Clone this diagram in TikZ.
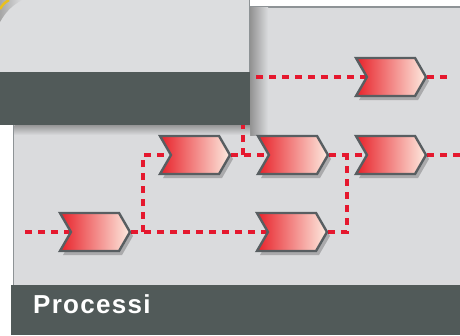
\documentclass[tikz,border=0pt]{standalone}
\usepackage{fontspec}
\newfontfamily\labelfont[LetterSpace=5]{Liberation Sans}
\usepackage{xcolor}
\usepackage{tikz}
\usetikzlibrary{shapes.symbols, shadows, backgrounds}

\definecolor{panelgray}{HTML}{DADBDD}
\definecolor{cardgray}{HTML}{DCDDDF}
\definecolor{darkbar}{HTML}{515A59}
\definecolor{edgegray}{HTML}{8E9396}
\definecolor{linkred}{HTML}{E5182E}
\definecolor{chevred}{HTML}{E8222A}
\definecolor{chevlight}{HTML}{FDEBE0}
\definecolor{chevborder}{HTML}{585E61}
\definecolor{cornergold}{HTML}{E8C020}

\pgfdeclarelayer{panel}
\pgfdeclarelayer{links}
\pgfdeclarelayer{front}
\pgfsetlayers{panel,links,main,front}

\begin{document}
\begin{tikzpicture}[x=1pt, y=-1pt,
    stepbox/.style={shape=signal, signal from=west, signal to=east, signal pointer angle=120,
      minimum width=70pt, minimum height=38pt, inner sep=0pt,
      draw=chevborder, line width=2.4pt, left color=chevred, right color=chevlight,
      drop shadow={shadow xshift=3pt, shadow yshift=-4pt, fill=black, opacity=0.22}},
    link/.style={draw=linkred, line width=3.4pt, dash pattern=on 7pt off 6pt}]
    \useasboundingbox (0,0) rectangle (460,335);
    % back panel
    \begin{pgfonlayer}{panel}
      \fill[white] (0,0) rectangle (460,335);
      \fill[panelgray] (13,7) rectangle (460,285);
      \draw[edgegray, line width=1.5pt] (13.5,335) -- (13.5,7) -- (460,7);
      % card shadow
      \shade[left color=gray!80!panelgray, right color=panelgray] (250,7.8) rectangle (268,135);
      \shade[top color=gray!75!panelgray, bottom color=panelgray] (14.3,125) rectangle (250,135);
    \end{pgfonlayer}
    % process steps
    \node[stepbox] (c1) at (95,232) {};
    \node[stepbox] (c2) at (195,155) {};
    \node[stepbox] (c3) at (293,155) {};
    \node[stepbox] (c4) at (292,232) {};
    \node[stepbox] (c5) at (391,155) {};
    \node[stepbox] (c6) at (391,77) {};
    \coordinate (in0) at (25,232);
    \coordinate (j1) at (143,232);
    \coordinate (j2) at (243,155);
    \coordinate (j3) at (347,155);
    \coordinate (out1) at (460,155);
    \coordinate (out2) at (453,77);
    % dotted flow lines
    \begin{pgfonlayer}{links}
      \draw[link] (in0) -- (c1.west);
      \draw[link] (c1.east) -- (c4.west);
      \draw[link] (j1) |- (c2.west);
      \draw[link] (c2.east) -- (c3.west);
      \draw[link] (j2) |- (c6.west);
      \draw[link] (c3.east) -- (c5.west);
      \draw[link] (c4.east) -| (j3);
      \draw[link] (c5.east) -- (out1);
      \draw[link] (c6.east) -- (out2);
    \end{pgfonlayer}
    % front card and caption bar
    \begin{pgfonlayer}{front}
      \fill[cardgray] (0,0) rectangle (250,125);
      \fill[darkbar] (0,72) rectangle (250,125);
      \draw[edgegray, line width=1pt] (249.5,0) -- (249.5,72);
      \shade[left color=gray!70, right color=cardgray] (0,0) -- (0,22) to[bend left=15] (22,0) -- cycle;
      \draw[cornergold, line width=2.5pt] (0,9) to[bend left=15] (9,0);
      \fill[darkbar] (11,285) rectangle (460,335);
      \node[anchor=base west, inner sep=0pt, text=white, font=\labelfont\bfseries\fontsize{26}{30}\selectfont] (title) at (33,313) {Processi};
    \end{pgfonlayer}
  \end{tikzpicture}
\end{document}
